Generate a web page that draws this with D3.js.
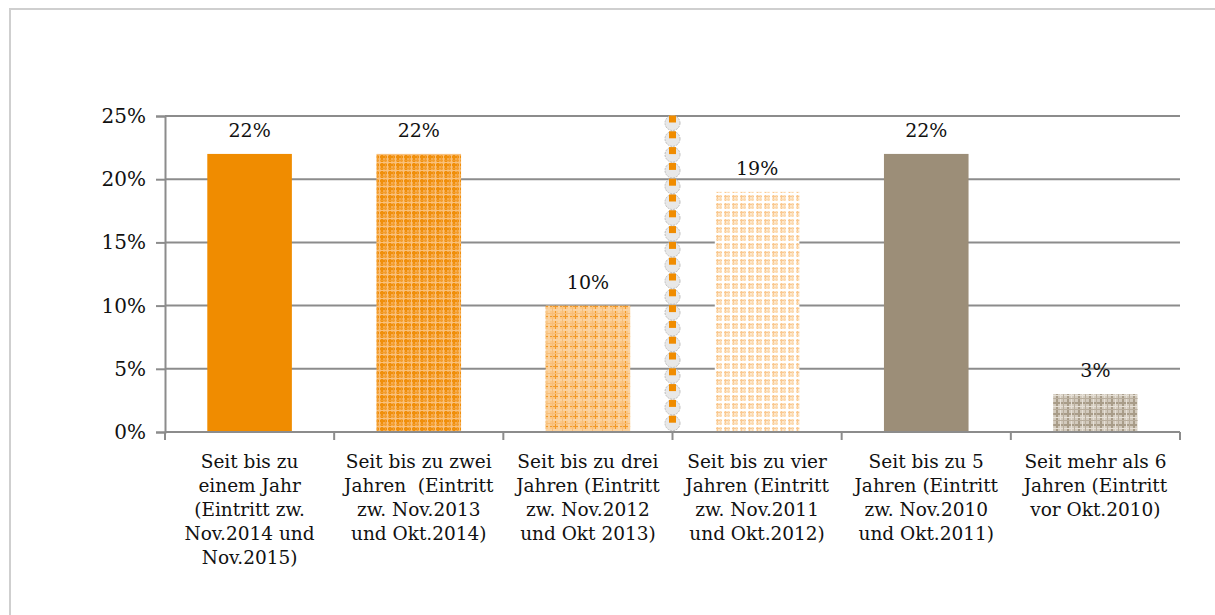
<!DOCTYPE html>
<html>
<script src="https://cdn.jsdelivr.net/npm/d3@7/dist/d3.min.js"></script>
<style>
  body, html {
    padding: 0;
    margin: 0;
    background: #fff;
  }
  svg {
    display: block;
  }
  text {
    font-family: "DejaVu Serif", "Liberation Serif", serif;
    fill: #111;
  }
</style>
<body>
  <svg width="1215" height="615"></svg>

  <script>
    // chart data
    var categories = [
      ['Seit bis zu', 'einem Jahr', '(Eintritt zw.', 'Nov.2014 und', 'Nov.2015)'],
      ['Seit bis zu zwei', 'Jahren  (Eintritt', 'zw. Nov.2013', 'und Okt.2014)'],
      ['Seit bis zu drei', 'Jahren (Eintritt', 'zw. Nov.2012', 'und Okt 2013)'],
      ['Seit bis zu vier', 'Jahren (Eintritt', 'zw. Nov.2011', 'und Okt.2012)'],
      ['Seit bis zu 5', 'Jahren (Eintritt', 'zw. Nov.2010', 'und Okt.2011)'],
      ['Seit mehr als 6', 'Jahren (Eintritt', 'vor Okt.2010)']
    ];
    var values = [0.22, 0.22, 0.10, 0.19, 0.22, 0.03];
    var valueLabels = ['22%', '22%', '10%', '19%', '22%', '3%'];
    var yTicks = [0, 0.05, 0.10, 0.15, 0.20, 0.25];

    var svg = d3.select('svg');
    var margin = {left: 165, right: 35, top: 116, bottom: 183};
    var width = 1215 - margin.left - margin.right;
    var height = 615 - margin.top - margin.bottom;

    // outer frame
    svg.append('rect')
      .attr('x', 10).attr('y', 9)
      .attr('width', 1230).attr('height', 640)
      .attr('fill', 'none')
      .attr('stroke', '#cfcfcf')
      .attr('stroke-width', 2);

    // patterns for the bars
    var defs = svg.append('defs');

    function plaid(id, size, bg, lines) {
      var p = defs.append('pattern')
        .attr('id', id)
        .attr('patternUnits', 'userSpaceOnUse')
        .attr('width', size).attr('height', size);
      p.append('rect').attr('width', size).attr('height', size).attr('fill', bg);
      lines.forEach(function (l) {
        p.append('rect').attr('x', l.pos).attr('y', 0)
          .attr('width', l.w).attr('height', size).attr('fill', l.c);
        p.append('rect').attr('x', 0).attr('y', l.pos)
          .attr('width', size).attr('height', l.w).attr('fill', l.c);
      });
      return 'url(#' + id + ')';
    }

    var fills = [
      '#f08c00',
      plaid('p2', 8, '#f6ac50', [
        {pos: 0, w: 2, c: '#f08f0a'},
        {pos: 4, w: 1, c: '#f39d2c'},
        {pos: 6, w: 1, c: '#f9c17c'}
      ]),
      plaid('p3', 10, '#fac888', [
        {pos: 0, w: 1, c: '#f39a28'},
        {pos: 3, w: 2, c: '#fbd3a0'},
        {pos: 7, w: 1, c: '#f8be78'}
      ]),
      plaid('p4', 8, '#fde8cc', [
        {pos: 0, w: 1, c: '#fac890'},
        {pos: 3, w: 1, c: '#fcdab0'},
        {pos: 5, w: 2, c: '#ffffff'}
      ]),
      '#9c8e78',
      plaid('p6', 11, '#d2cabd', [
        {pos: 0, w: 2, c: '#a89c88'},
        {pos: 4, w: 1, c: '#e6e0d6'},
        {pos: 7, w: 1, c: '#b8ad9c'}
      ])
    ];

    var g = svg.append('g')
      .attr('transform', 'translate(' + margin.left + ',' + margin.top + ')');

    var x = d3.scaleBand()
      .domain(d3.range(categories.length))
      .range([0, width])
      .paddingInner(0.5)
      .paddingOuter(0.25);

    var y = d3.scaleLinear()
      .domain([0, 0.25])
      .range([height, 0]);

    // gridlines
    g.selectAll('.grid')
      .data(yTicks.slice(1))
      .enter().append('line')
        .attr('x1', 0).attr('x2', width)
        .attr('y1', function (d) { return y(d); })
        .attr('y2', function (d) { return y(d); })
        .attr('stroke', '#8c8c8c')
        .attr('stroke-width', 2);

    // y axis
    var yAxis = g.append('g')
      .call(d3.axisLeft(y).tickValues(yTicks).tickSize(9).tickPadding(10)
        .tickFormat(d3.format('.0%')));
    yAxis.select('.domain').attr('stroke', '#8c8c8c').attr('stroke-width', 2);
    yAxis.selectAll('.tick line').attr('stroke', '#8c8c8c').attr('stroke-width', 2);
    yAxis.selectAll('.tick text')
      .style('font-family', '"DejaVu Serif", serif')
      .style('font-size', '20px')
      .attr('fill', '#111');

    // bars
    g.selectAll('.bar')
      .data(values)
      .enter().append('rect')
        .attr('x', function (d, i) { return x(i); })
        .attr('y', function (d) { return y(d); })
        .attr('width', x.bandwidth())
        .attr('height', function (d) { return height - y(d); })
        .attr('fill', function (d, i) { return fills[i]; });

    // x axis line with ticks at band boundaries
    var step = x.step();
    g.append('line')
      .attr('x1', 0).attr('x2', width)
      .attr('y1', height).attr('y2', height)
      .attr('stroke', '#8c8c8c').attr('stroke-width', 2);
    g.selectAll('.xtick')
      .data(d3.range(categories.length + 1))
      .enter().append('line')
        .attr('x1', function (d) { return d * step; })
        .attr('x2', function (d) { return d * step; })
        .attr('y1', height).attr('y2', height + 8)
        .attr('stroke', '#8c8c8c').attr('stroke-width', 2);

    // decorative dotted separator between 3rd and 4th category
    var sepX = 3 * step;
    var dots = d3.range(0, 20).map(function (i) { return y(0.25) + i * 15.8; });
    var dot = g.selectAll('.dot').data(dots).enter().append('g')
      .attr('transform', function (d) { return 'translate(' + sepX + ',' + (d + 7) + ')'; });
    dot.append('circle')
      .attr('r', 7.5)
      .attr('fill', '#e8e8e8')
      .attr('stroke', '#bdbdbd')
      .attr('stroke-dasharray', '2,1');
    dot.append('rect')
      .attr('x', -3.5).attr('y', -7.5).attr('width', 7).attr('height', 7)
      .attr('fill', '#f08c00');

    // value labels
    g.selectAll('.val')
      .data(values)
      .enter().append('text')
        .attr('x', function (d, i) { return x(i) + x.bandwidth() / 2; })
        .attr('y', function (d) { return y(d) - 17; })
        .attr('text-anchor', 'middle')
        .style('font-size', '19px')
        .text(function (d, i) { return valueLabels[i]; });

    // category labels
    var cat = g.selectAll('.cat')
      .data(categories)
      .enter().append('text')
        .attr('x', function (d, i) { return x(i) + x.bandwidth() / 2; })
        .attr('y', height + 36)
        .attr('text-anchor', 'middle')
        .style('white-space', 'pre')
        .style('font-size', '18.5px');
    cat.selectAll('tspan')
      .data(function (d) { return d; })
      .enter().append('tspan')
        .attr('x', function () { return d3.select(this.parentNode).attr('x'); })
        .attr('dy', function (d, i) { return i === 0 ? 0 : 24; })
        .text(function (d) { return d; });
  </script>
</body>
</html>
